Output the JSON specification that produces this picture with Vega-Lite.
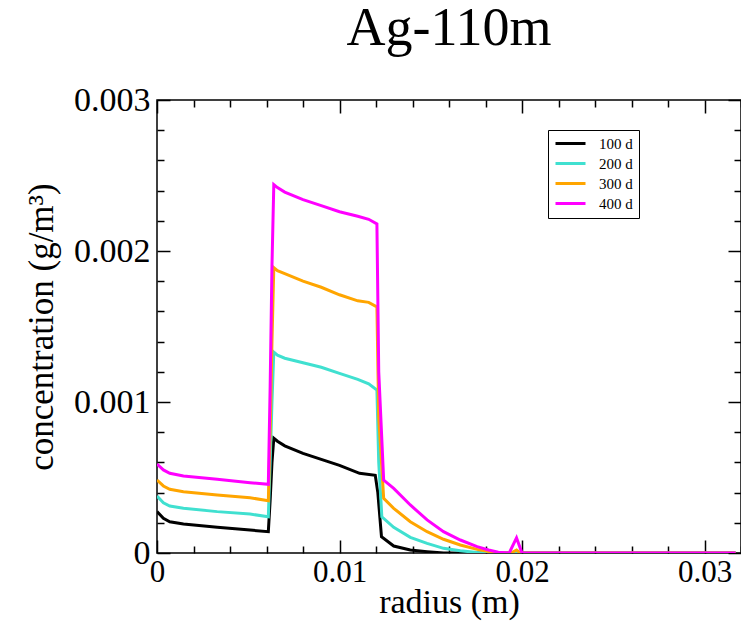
{
  "$schema": "https://vega.github.io/schema/vega-lite/v6.json",
  "autosize": "none",
  "width": 584,
  "height": 453,
  "padding": {"left": 157, "top": 100, "right": 0, "bottom": 70},
  "background": "white",
  "title": {"text": "Ag-110m", "font": "Liberation Serif", "fontSize": 54, "fontWeight": "normal", "color": "black", "anchor": "middle", "offset": 27},
  "config": {
    "view": {"stroke": "black", "strokeWidth": 1.5},
    "axis": {"domain": false, "grid": false, "tickColor": "black", "tickWidth": 1.5, "labelFont": "Liberation Serif", "labelColor": "black", "titleFont": "Liberation Serif", "titleFontWeight": "normal", "titleColor": "black", "labelOverlap": false, "labelBound": false, "labelFlush": false}
  },
  "data": {"values": [
    {"s":"100 d","r":0,"c":0.000274},{"s":"100 d","r":0.00035,"c":0.00023},{"s":"100 d","r":0.0007,"c":0.000207},{"s":"100 d","r":0.00145,"c":0.000192},{"s":"100 d","r":0.0033,"c":0.00017},{"s":"100 d","r":0.0051,"c":0.000152},{"s":"100 d","r":0.0061,"c":0.000141},{"s":"100 d","r":0.0062,"c":0.00035},{"s":"100 d","r":0.0063,"c":0.0006},{"s":"100 d","r":0.0064,"c":0.00076},{"s":"100 d","r":0.0066,"c":0.00074},{"s":"100 d","r":0.007,"c":0.00071},{"s":"100 d","r":0.008,"c":0.00066},{"s":"100 d","r":0.009,"c":0.00062},{"s":"100 d","r":0.01,"c":0.00058},{"s":"100 d","r":0.0111,"c":0.000528},{"s":"100 d","r":0.01196,"c":0.000515},{"s":"100 d","r":0.0121,"c":0.0004},{"s":"100 d","r":0.0123,"c":0.000108},{"s":"100 d","r":0.01297,"c":0.000046},{"s":"100 d","r":0.01388,"c":0.00002},{"s":"100 d","r":0.0148,"c":0.000009},{"s":"100 d","r":0.0157,"c":0},{"s":"100 d","r":0.0317,"c":0},
    {"s":"200 d","r":0,"c":0.000377},{"s":"200 d","r":0.00035,"c":0.000333},{"s":"200 d","r":0.0007,"c":0.000311},{"s":"200 d","r":0.00145,"c":0.000296},{"s":"200 d","r":0.0033,"c":0.000274},{"s":"200 d","r":0.0051,"c":0.000258},{"s":"200 d","r":0.0061,"c":0.00024},{"s":"200 d","r":0.0062,"c":0.0006},{"s":"200 d","r":0.0063,"c":0.001},{"s":"200 d","r":0.0064,"c":0.00133},{"s":"200 d","r":0.0066,"c":0.00131},{"s":"200 d","r":0.007,"c":0.00129},{"s":"200 d","r":0.008,"c":0.00126},{"s":"200 d","r":0.009,"c":0.00123},{"s":"200 d","r":0.01,"c":0.00119},{"s":"200 d","r":0.011,"c":0.00115},{"s":"200 d","r":0.0116,"c":0.00112},{"s":"200 d","r":0.01205,"c":0.00108},{"s":"200 d","r":0.01215,"c":0.0006},{"s":"200 d","r":0.01232,"c":0.00024},{"s":"200 d","r":0.01297,"c":0.00017},{"s":"200 d","r":0.01388,"c":0.000104},{"s":"200 d","r":0.0148,"c":0.000064},{"s":"200 d","r":0.0157,"c":0.000031},{"s":"200 d","r":0.01662,"c":0.000015},{"s":"200 d","r":0.01754,"c":0.000003},{"s":"200 d","r":0.0185,"c":0},{"s":"200 d","r":0.0317,"c":0},
    {"s":"300 d","r":0,"c":0.000483},{"s":"300 d","r":0.00035,"c":0.000444},{"s":"300 d","r":0.0007,"c":0.000422},{"s":"300 d","r":0.00145,"c":0.000406},{"s":"300 d","r":0.0033,"c":0.000384},{"s":"300 d","r":0.0051,"c":0.000366},{"s":"300 d","r":0.0061,"c":0.000346},{"s":"300 d","r":0.0062,"c":0.0008},{"s":"300 d","r":0.0063,"c":0.0014},{"s":"300 d","r":0.0064,"c":0.00189},{"s":"300 d","r":0.0066,"c":0.00187},{"s":"300 d","r":0.007,"c":0.00185},{"s":"300 d","r":0.008,"c":0.0018},{"s":"300 d","r":0.009,"c":0.00176},{"s":"300 d","r":0.01,"c":0.00171},{"s":"300 d","r":0.011,"c":0.00167},{"s":"300 d","r":0.0116,"c":0.00166},{"s":"300 d","r":0.01205,"c":0.00163},{"s":"300 d","r":0.01215,"c":0.0009},{"s":"300 d","r":0.01242,"c":0.000362},{"s":"300 d","r":0.01297,"c":0.000296},{"s":"300 d","r":0.01388,"c":0.000207},{"s":"300 d","r":0.0148,"c":0.000141},{"s":"300 d","r":0.0157,"c":0.000091},{"s":"300 d","r":0.01662,"c":0.000053},{"s":"300 d","r":0.01754,"c":0.000024},{"s":"300 d","r":0.01817,"c":0.00001},{"s":"300 d","r":0.0187,"c":0.000002},{"s":"300 d","r":0.0194,"c":0},{"s":"300 d","r":0.0197,"c":0.00002},{"s":"300 d","r":0.0199,"c":0},{"s":"300 d","r":0.0317,"c":0},
    {"s":"400 d","r":0,"c":0.000589},{"s":"400 d","r":0.00035,"c":0.00055},{"s":"400 d","r":0.0007,"c":0.000528},{"s":"400 d","r":0.00145,"c":0.00051},{"s":"400 d","r":0.0033,"c":0.000488},{"s":"400 d","r":0.0051,"c":0.000466},{"s":"400 d","r":0.0061,"c":0.000455},{"s":"400 d","r":0.0062,"c":0.0011},{"s":"400 d","r":0.0063,"c":0.0019},{"s":"400 d","r":0.0064,"c":0.00244},{"s":"400 d","r":0.0066,"c":0.00242},{"s":"400 d","r":0.007,"c":0.00239},{"s":"400 d","r":0.008,"c":0.00234},{"s":"400 d","r":0.009,"c":0.0023},{"s":"400 d","r":0.01,"c":0.00226},{"s":"400 d","r":0.011,"c":0.00223},{"s":"400 d","r":0.0116,"c":0.00221},{"s":"400 d","r":0.01205,"c":0.00218},{"s":"400 d","r":0.01215,"c":0.0012},{"s":"400 d","r":0.01242,"c":0.000483},{"s":"400 d","r":0.01297,"c":0.000428},{"s":"400 d","r":0.01388,"c":0.000318},{"s":"400 d","r":0.0148,"c":0.000219},{"s":"400 d","r":0.0157,"c":0.000141},{"s":"400 d","r":0.01662,"c":0.000086},{"s":"400 d","r":0.01754,"c":0.000042},{"s":"400 d","r":0.01817,"c":0.00002},{"s":"400 d","r":0.0187,"c":0.000005},{"s":"400 d","r":0.0193,"c":0},{"s":"400 d","r":0.0197,"c":0.0001},{"s":"400 d","r":0.02,"c":0},{"s":"400 d","r":0.0317,"c":0}
  ]},
  "layer": [
    {
      "mark": {"type": "line", "strokeWidth": 3, "clip": true},
      "encoding": {
        "x": {"field": "r", "type": "quantitative", "scale": {"domain": [0, 0.032], "nice": false, "zero": false},
          "axis": {"orient": "bottom", "title": "radius (m)", "values": [0,0.002,0.004,0.006,0.008,0.01,0.012,0.014,0.016,0.018,0.02,0.022,0.024,0.026,0.028,0.03,0.032],
            "labelExpr": "abs(datum.value*100 - round(datum.value*100)) < 1e-6 ? format(datum.value, '~g') : ''",
            "tickSize": {"condition": {"test": "abs(datum.value*100 - round(datum.value*100)) < 1e-6", "value": -13}, "value": -7},
            "labelFontSize": 31, "titleFontSize": 34, "labelPadding": 17, "titlePadding": -8}},
        "y": {"field": "c", "type": "quantitative", "scale": {"domain": [0, 0.003], "nice": false},
          "axis": {"orient": "left", "title": "concentration (g/m³)", "values": [0,0.0002,0.0004,0.0006,0.0008,0.001,0.0012,0.0014,0.0016,0.0018,0.002,0.0022,0.0024,0.0026,0.0028,0.003],
            "labelExpr": "abs(datum.value*1000 - round(datum.value*1000)) < 1e-6 ? format(datum.value, '~g') : ''",
            "tickSize": {"condition": {"test": "abs(datum.value*1000 - round(datum.value*1000)) < 1e-6", "value": -13}, "value": -7},
            "labelFontSize": 34, "titleFontSize": 35, "labelPadding": 20, "titlePadding": 14}},
        "color": {"field": "s", "type": "nominal", "scale": {"domain": ["100 d", "200 d", "300 d", "400 d"], "range": ["#000000", "#40E0D0", "#FFA500", "#FF00FF"]},
          "legend": {"title": null, "orient": "none", "legendX": 391, "legendY": 30, "strokeColor": "black", "fillColor": "white", "padding": 6, "symbolType": "stroke", "symbolStrokeWidth": 3, "symbolSize": 900, "labelFont": "Liberation Serif", "labelFontSize": 15, "labelColor": "black", "labelOffset": 12, "clipHeight": 15, "rowPadding": 4}}
      }
    },
    {
      "mark": {"type": "line", "opacity": 0},
      "encoding": {
        "x": {"field": "r", "type": "quantitative",
          "axis": {"orient": "top", "title": null, "labels": false, "values": [0,0.002,0.004,0.006,0.008,0.01,0.012,0.014,0.016,0.018,0.02,0.022,0.024,0.026,0.028,0.03,0.032],
            "tickSize": {"condition": {"test": "abs(datum.value*100 - round(datum.value*100)) < 1e-6", "value": -13}, "value": -7}}},
        "y": {"field": "c", "type": "quantitative",
          "axis": {"orient": "right", "title": null, "labels": false, "values": [0,0.0002,0.0004,0.0006,0.0008,0.001,0.0012,0.0014,0.0016,0.0018,0.002,0.0022,0.0024,0.0026,0.0028,0.003],
            "tickSize": {"condition": {"test": "abs(datum.value*1000 - round(datum.value*1000)) < 1e-6", "value": -13}, "value": -7}}},
        "detail": {"field": "s", "type": "nominal"}
      }
    }
  ],
  "resolve": {"axis": {"x": "independent", "y": "independent"}}
}
